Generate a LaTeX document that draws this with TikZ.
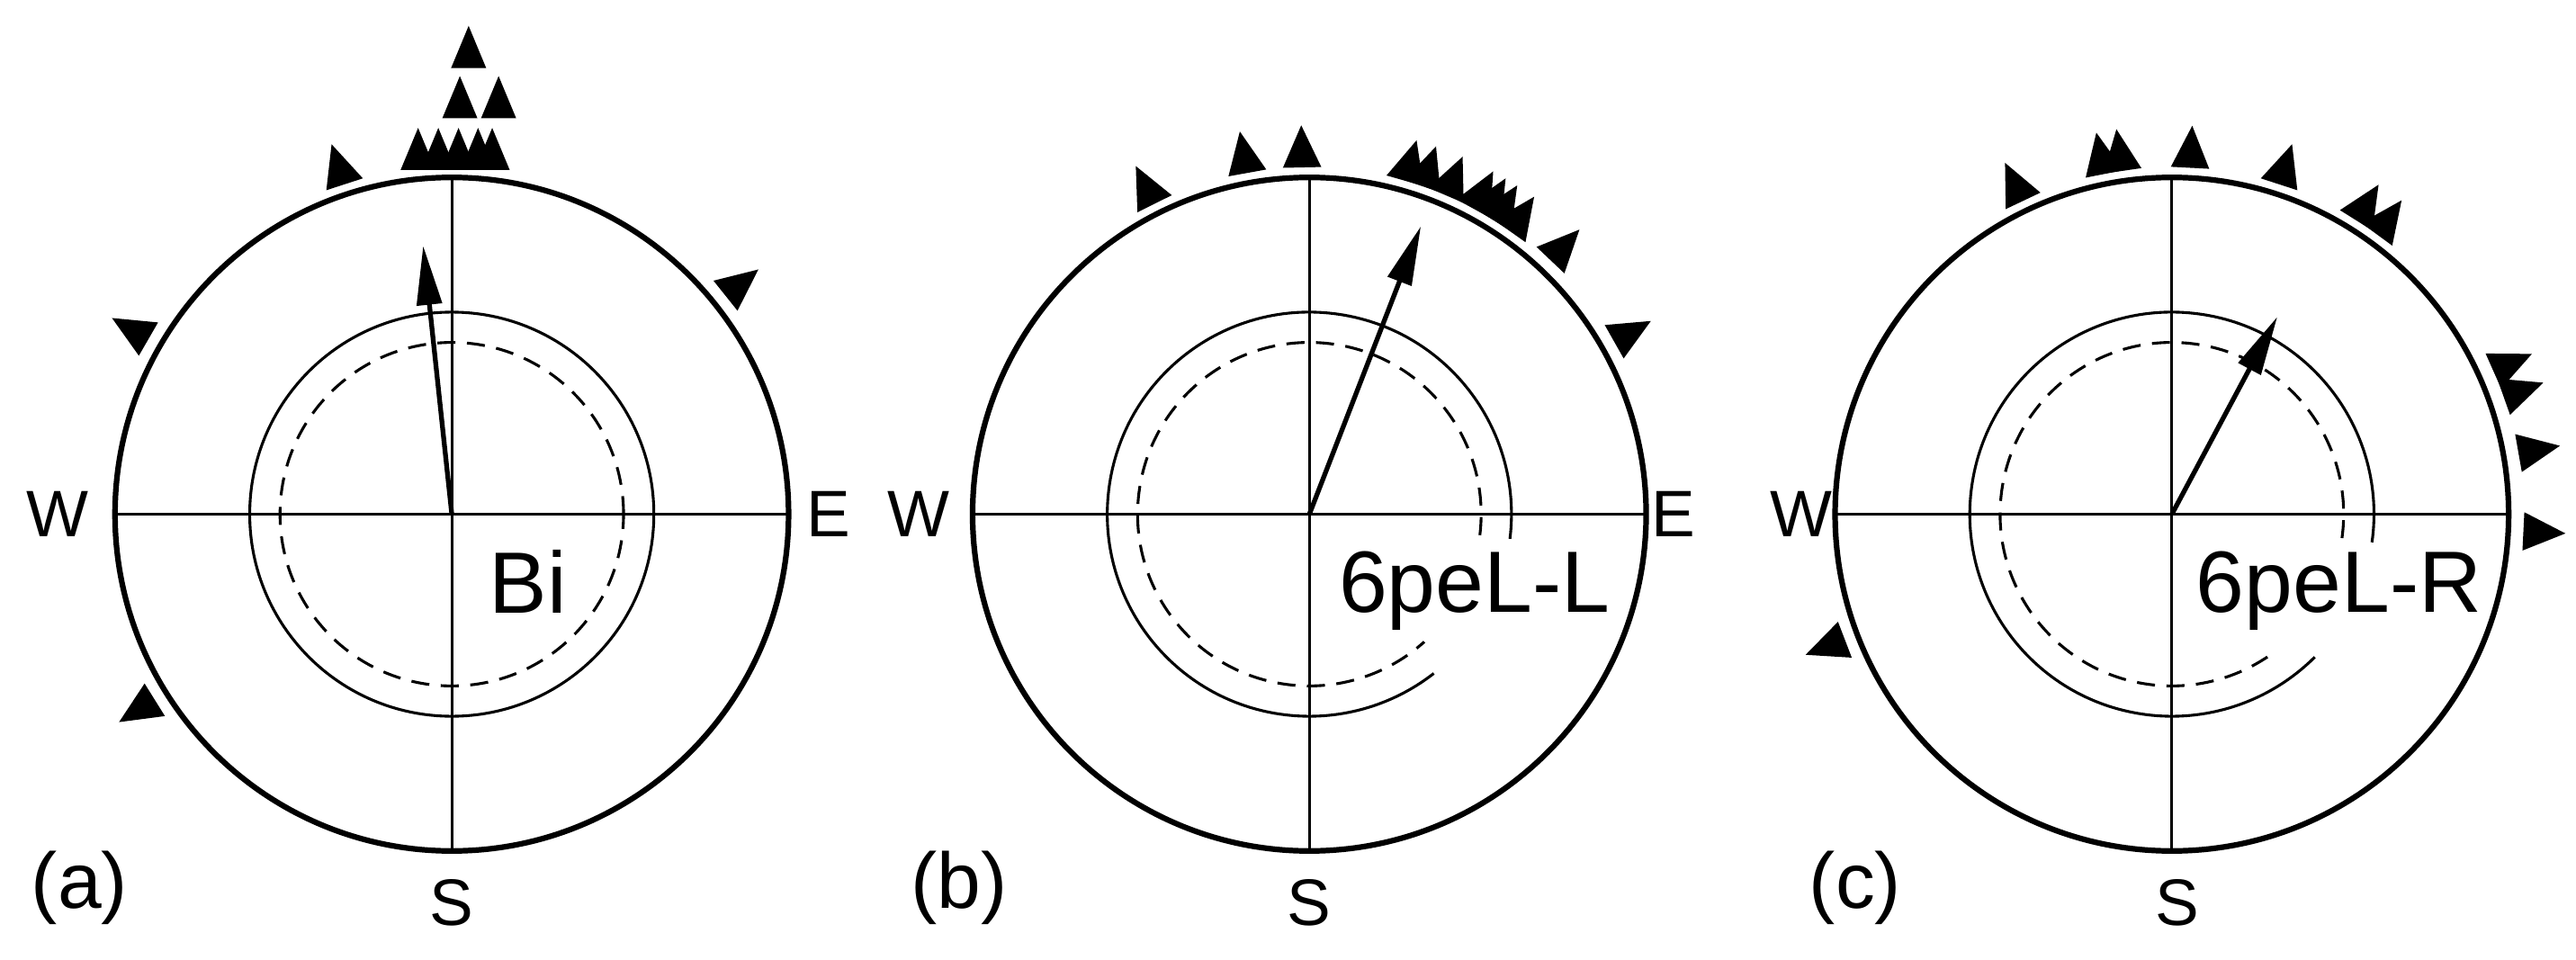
\documentclass[tikz,border=0pt]{standalone}
\usepackage{fontspec}
\setmainfont{Liberation Sans}
\usetikzlibrary{arrows.meta}
\tikzset{
  outer/.style={line width=3.4pt},
  thin/.style={line width=1.7pt},
  dsh/.style={line width=1.7pt, dash pattern=on 11pt off 7pt},
  vec/.style={line width=2.9pt, -{Triangle[length=36pt,width=15pt]}},
  dirlab/.style={font=\fontsize{40}{48}\selectfont, inner sep=0pt},
  panlab/.style={font=\fontsize{48}{56}\selectfont, inner sep=0pt},
  samplab/.style={font=\fontsize{53}{60}\selectfont, inner sep=0pt, anchor=base west}
}
\newcommand\mk[2]{\fill[rotate around={#1-90:(0,0)}] (-0.057,#2) -- (0.057,#2) -- (0,#2+0.125) -- cycle;}
\newcommand\mku[2]{\fill (#1-0.052,#2) -- (#1+0.052,#2) -- (#1,#2+0.125) -- cycle;}
\newcommand\basecirc{%
  \draw[outer] (0,0) circle (1);
  \draw[thin] (-1,0) -- (1,0);
  \draw[thin] (0,-1) -- (0,1);
}
\begin{document}
\begin{tikzpicture}[x=1pt,y=1pt]
\useasboundingbox (0,0) rectangle (1568,584);
% ---------- (a)
\begin{scope}[shift={(275,271)}, x=205pt, y=205pt]
  \basecirc
  \draw[thin] (0,0) circle (0.60);
  \draw[dsh] (0,0) circle (0.51);
  \coordinate (ca) at (0,0);
  \coordinate (ta) at (-0.085,0.797);
  \draw[vec] (ca) -- (ta);
  \node[dirlab] (wa) at (-1.17,0) {W};
  \node[dirlab] (ea) at (1.12,0) {E};
  \node[dirlab] (sa) at (0.0,-1.155) {S};
  \node[panlab] (la) at (-1.105,-1.11) {(a)};
  \node[samplab] (na) at (0.11,-0.293) {Bi};
  \mk{108}{1.03} \mk{38.6}{1.04} \mk{150}{1.04} \mk{212}{1.04}
  \mku{-0.10}{1.022} \mku{-0.04}{1.022} \mku{0.02}{1.022} \mku{0.078}{1.022} \mku{0.12}{1.022}
  \mku{0.024}{1.176} \mku{0.139}{1.176}
  \mku{0.05}{1.325}
\end{scope}
% ---------- (b)
\begin{scope}[shift={(797,271)}, x=205pt, y=205pt]
  \basecirc
  \draw[thin] (-7:0.60) arc[start angle=-7, end angle=308, radius=0.60];
  \draw[dsh] (-7:0.51) arc[start angle=-7, end angle=312, radius=0.51];
  \coordinate (cb) at (0,0);
  \coordinate (tb) at (0.331,0.855);
  \draw[vec] (cb) -- (tb);
  \node[dirlab] (wb) at (-1.16,0) {W};
  \node[dirlab] (eb) at (1.08,0) {E};
  \node[dirlab] (sb) at (0.0,-1.155) {S};
  \node[panlab] (lb) at (-1.04,-1.11) {(b)};
  \node[samplab] (nb) at (0.087,-0.29) {6peL-L};
  \mk{116.5}{1.03} \mk{100.3}{1.03} \mk{91.2}{1.03}
  \mk{74}{1.03} \mk{71}{1.03} \mk{66.8}{1.03} \mk{61.8}{1.03} \mk{59.7}{1.03} \mk{57.7}{1.03} \mk{54.7}{1.03}
  \mk{46.5}{1.04} \mk{29.5}{1.04}
\end{scope}
% ---------- (c)
\begin{scope}[shift={(1322,271)}, x=205pt, y=205pt]
  \basecirc
  \draw[thin] (-8:0.60) arc[start angle=-8, end angle=315, radius=0.60];
  \draw[dsh] (-8:0.51) arc[start angle=-8, end angle=307, radius=0.51];
  \coordinate (cc) at (0,0);
  \coordinate (tc) at (0.313,0.586);
  \draw[vec] (cc) -- (tc);
  \node[dirlab] (wc) at (-1.10,0) {W};
  \node[dirlab] (sc) at (0.015,-1.155) {S};
  \node[panlab] (lc) at (-0.94,-1.11) {(c)};
  \node[samplab] (nc) at (0.071,-0.29) {6peL-R};
  \mk{115.4}{1.03} \mk{101.2}{1.03} \mk{98.2}{1.03} \mk{87}{1.03} \mk{72}{1.03}
  \mk{57.9}{1.03} \mk{53.8}{1.03} \mk{24}{1.045} \mk{19.5}{1.045} \mk{10}{1.045} \mk{-2.8}{1.045}
  \mk{201}{1.04}
\end{scope}
\end{tikzpicture}
\end{document}
